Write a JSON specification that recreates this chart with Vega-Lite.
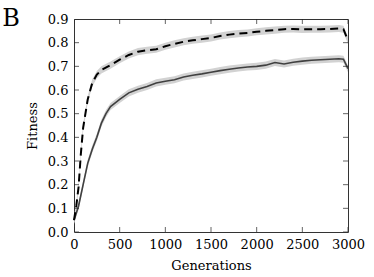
{
  "$schema": "https://vega.github.io/schema/vega-lite/v6.json",
  "autosize": "none",
  "padding": {"left": 74, "top": 19, "right": 26, "bottom": 45},
  "width": 274,
  "height": 213,
  "background": "white",
  "title": {"text": "B", "anchor": "start", "frame": "bounds", "font": "DejaVu Serif", "fontSize": 24, "fontWeight": "normal", "color": "black", "baseline": "alphabetic", "dx": -24, "dy": 41},
  "config": {
    "view": {"stroke": "#333", "strokeWidth": 1},
    "axis": {"grid": false, "domain": false, "ticks": false, "tickSize": 0, "labelFont": "DejaVu Serif", "labelFontSize": 13, "labelColor": "black", "titleFont": "DejaVu Serif", "titleFontSize": 13, "titleFontWeight": "normal", "titleColor": "black", "labelOverlap": false, "labelFlush": false, "zindex": 1}
  },
  "datasets": {
    "curves": [
      {"s": "d", "g": 0, "v": 0.05}, {"s": "d", "g": 25, "v": 0.11}, {"s": "d", "g": 50, "v": 0.19}, {"s": "d", "g": 75, "v": 0.33},
      {"s": "d", "g": 100, "v": 0.44}, {"s": "d", "g": 125, "v": 0.5}, {"s": "d", "g": 150, "v": 0.56}, {"s": "d", "g": 200, "v": 0.63},
      {"s": "d", "g": 250, "v": 0.665}, {"s": "d", "g": 300, "v": 0.685}, {"s": "d", "g": 400, "v": 0.705}, {"s": "d", "g": 500, "v": 0.728},
      {"s": "d", "g": 600, "v": 0.748}, {"s": "d", "g": 700, "v": 0.762}, {"s": "d", "g": 800, "v": 0.768}, {"s": "d", "g": 900, "v": 0.772},
      {"s": "d", "g": 1000, "v": 0.785}, {"s": "d", "g": 1100, "v": 0.795}, {"s": "d", "g": 1200, "v": 0.804}, {"s": "d", "g": 1300, "v": 0.81},
      {"s": "d", "g": 1400, "v": 0.815}, {"s": "d", "g": 1500, "v": 0.82}, {"s": "d", "g": 1600, "v": 0.828}, {"s": "d", "g": 1700, "v": 0.834},
      {"s": "d", "g": 1800, "v": 0.838}, {"s": "d", "g": 1900, "v": 0.841}, {"s": "d", "g": 2000, "v": 0.846}, {"s": "d", "g": 2100, "v": 0.85},
      {"s": "d", "g": 2200, "v": 0.853}, {"s": "d", "g": 2300, "v": 0.857}, {"s": "d", "g": 2400, "v": 0.858}, {"s": "d", "g": 2500, "v": 0.856},
      {"s": "d", "g": 2600, "v": 0.857}, {"s": "d", "g": 2700, "v": 0.857}, {"s": "d", "g": 2800, "v": 0.858}, {"s": "d", "g": 2900, "v": 0.86},
      {"s": "d", "g": 2950, "v": 0.857}, {"s": "d", "g": 3000, "v": 0.81},
      {"s": "s", "g": 0, "v": 0.05}, {"s": "s", "g": 50, "v": 0.11}, {"s": "s", "g": 100, "v": 0.2}, {"s": "s", "g": 150, "v": 0.29},
      {"s": "s", "g": 200, "v": 0.35}, {"s": "s", "g": 250, "v": 0.4}, {"s": "s", "g": 300, "v": 0.46}, {"s": "s", "g": 350, "v": 0.5},
      {"s": "s", "g": 400, "v": 0.53}, {"s": "s", "g": 500, "v": 0.56}, {"s": "s", "g": 600, "v": 0.588}, {"s": "s", "g": 700, "v": 0.603},
      {"s": "s", "g": 800, "v": 0.615}, {"s": "s", "g": 900, "v": 0.63}, {"s": "s", "g": 1000, "v": 0.637}, {"s": "s", "g": 1100, "v": 0.643},
      {"s": "s", "g": 1200, "v": 0.655}, {"s": "s", "g": 1300, "v": 0.662}, {"s": "s", "g": 1400, "v": 0.668}, {"s": "s", "g": 1500, "v": 0.675},
      {"s": "s", "g": 1600, "v": 0.682}, {"s": "s", "g": 1700, "v": 0.688}, {"s": "s", "g": 1800, "v": 0.693}, {"s": "s", "g": 1900, "v": 0.697},
      {"s": "s", "g": 2000, "v": 0.7}, {"s": "s", "g": 2100, "v": 0.705}, {"s": "s", "g": 2200, "v": 0.716}, {"s": "s", "g": 2300, "v": 0.71},
      {"s": "s", "g": 2400, "v": 0.717}, {"s": "s", "g": 2500, "v": 0.722}, {"s": "s", "g": 2600, "v": 0.726}, {"s": "s", "g": 2700, "v": 0.728},
      {"s": "s", "g": 2800, "v": 0.73}, {"s": "s", "g": 2900, "v": 0.732}, {"s": "s", "g": 2950, "v": 0.73}, {"s": "s", "g": 3000, "v": 0.69}
    ],
    "xticks": [{"t": 0}, {"t": 500}, {"t": 1000}, {"t": 1500}, {"t": 2000}, {"t": 2500}, {"t": 3000}],
    "yticks": [{"t": 0}, {"t": 0.1}, {"t": 0.2}, {"t": 0.3}, {"t": 0.4}, {"t": 0.5}, {"t": 0.6}, {"t": 0.7}, {"t": 0.8}, {"t": 0.9}]
  },
  "layer": [
    {
      "data": {"name": "curves"},
      "transform": [
        {"calculate": "datum.v - 0.015", "as": "lo"},
        {"calculate": "datum.v + 0.015", "as": "hi"}
      ],
      "mark": {"type": "area", "color": "#d2d2d2", "opacity": 1},
      "encoding": {
        "x": {"field": "g", "type": "quantitative", "scale": {"domain": [0, 3000], "nice": false, "zero": false}, "axis": null},
        "y": {"field": "lo", "type": "quantitative", "scale": {"domain": [0, 0.9], "nice": false}, "axis": null},
        "y2": {"field": "hi"},
        "detail": {"field": "s"}
      }
    },
    {
      "data": {"name": "curves"},
      "transform": [{"filter": "datum.s == 's'"}],
      "mark": {"type": "line", "color": "#404040", "strokeWidth": 1.6},
      "encoding": {
        "x": {"field": "g", "type": "quantitative", "axis": null},
        "y": {"field": "v", "type": "quantitative", "axis": null}
      }
    },
    {
      "data": {"name": "curves"},
      "transform": [{"filter": "datum.s == 'd'"}],
      "mark": {"type": "line", "color": "black", "strokeWidth": 2, "strokeDash": [8, 5]},
      "encoding": {
        "x": {"field": "g", "type": "quantitative", "title": "Generations", "axis": {"orient": "bottom", "labelPadding": 6, "titlePadding": 8, "values": [0, 500, 1000, 1500, 2000, 2500, 3000], "format": "d"}},
        "y": {"field": "v", "type": "quantitative", "title": "Fitness", "axis": {"orient": "left", "labelPadding": 6, "titlePadding": 8, "values": [0, 0.1, 0.2, 0.3, 0.4, 0.5, 0.6, 0.7, 0.8, 0.9], "format": ".1f"}}
      }
    },
    {
      "data": {"name": "xticks"},
      "mark": {"type": "tick", "orient": "vertical", "size": 10, "thickness": 1, "color": "#222", "clip": true},
      "encoding": {
        "x": {"field": "t", "type": "quantitative", "axis": null},
        "y": {"datum": 0, "type": "quantitative", "axis": null}
      }
    },
    {
      "data": {"name": "xticks"},
      "mark": {"type": "tick", "orient": "vertical", "size": 10, "thickness": 1, "color": "#222", "clip": true},
      "encoding": {
        "x": {"field": "t", "type": "quantitative", "axis": null},
        "y": {"datum": 0.9, "type": "quantitative", "axis": null}
      }
    },
    {
      "data": {"name": "yticks"},
      "mark": {"type": "tick", "orient": "horizontal", "size": 10, "thickness": 1, "color": "#222", "clip": true},
      "encoding": {
        "y": {"field": "t", "type": "quantitative", "axis": null},
        "x": {"datum": 0, "type": "quantitative", "axis": null}
      }
    },
    {
      "data": {"name": "yticks"},
      "mark": {"type": "tick", "orient": "horizontal", "size": 10, "thickness": 1, "color": "#222", "clip": true},
      "encoding": {
        "y": {"field": "t", "type": "quantitative", "axis": null},
        "x": {"datum": 3000, "type": "quantitative", "axis": null}
      }
    }
  ],
  "resolve": {"axis": {"x": "independent", "y": "independent"}}
}
